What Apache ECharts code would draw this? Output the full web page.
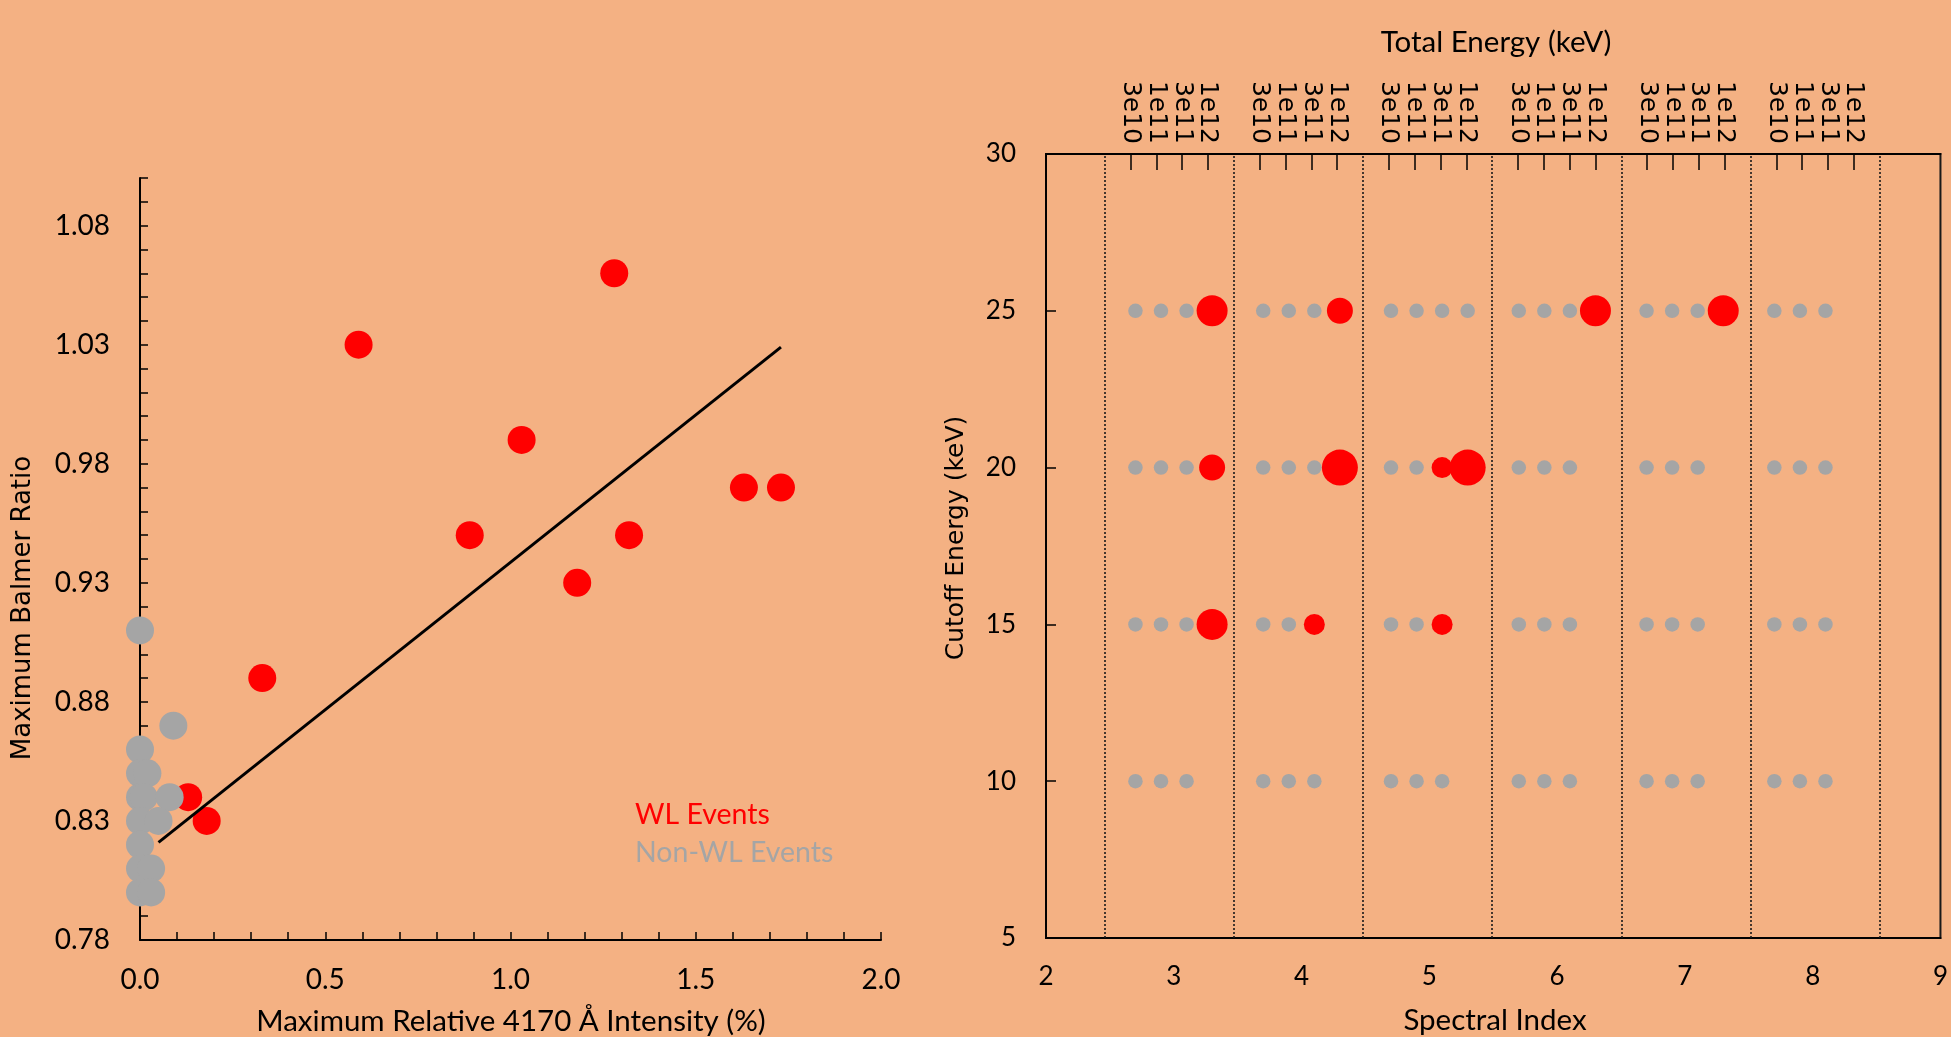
<!DOCTYPE html>
<html>
<head>
<meta charset="utf-8">
<title>Balmer ratio and spectral model runs</title>
<script src="https://cdn.jsdelivr.net/npm/echarts@6/dist/echarts.min.js"></script>
<style>
  html, body { margin: 0; padding: 0; background: #F4B183; }
  #chart { width: 1951px; height: 1037px; }
</style>
</head>
<body>
<div id="chart"></div>
<script>
// ---- Left panel: flare events ----
const wlIntensity = [0.59, 1.28, 1.03, 1.63, 1.73, 0.89, 1.32, 1.18, 0.33, 0.13, 0.18];
const wlBalmer    = [1.03, 1.06, 0.99, 0.97, 0.97, 0.95, 0.95, 0.93, 0.89, 0.84, 0.83];

const nonWlIntensity = [0.00, 0.09, 0.00, 0.00, 0.02, 0.00, 0.01, 0.08, 0.00, 0.05, 0.00, 0.00, 0.03, 0.00, 0.03];
const nonWlBalmer    = [0.91, 0.87, 0.86, 0.85, 0.85, 0.84, 0.84, 0.84, 0.83, 0.83, 0.82, 0.81, 0.81, 0.80, 0.80];

// linear fit through all events, drawn between its end points
const fitIntensity = [0.05, 1.73];
const fitBalmer    = [0.821, 1.029];

const intensityTickLabels = [0.0, 0.5, 1.0, 1.5, 2.0];
const balmerTickLabels    = [0.78, 0.83, 0.88, 0.93, 0.98, 1.03, 1.08];

// ---- Right panel: model grid ----
const spectralIndices   = [3, 4, 5, 6, 7, 8];
const cutoffTickLabels  = [5, 10, 15, 20, 25, 30];
const totalEnergyLabels = ['3e10', '1e11', '3e11', '1e12'];
// horizontal slot of each total energy inside a spectral-index column
const energySlots = [-0.3, -0.1, 0.1, 0.3];

// computed runs: [spectral index, energy index, cutoff keV]
const modelRuns = [
  [3,0,25],[3,1,25],[3,2,25], [4,0,25],[4,1,25],[4,2,25], [5,0,25],[5,1,25],[5,2,25],[5,3,25],
  [6,0,25],[6,1,25],[6,2,25], [7,0,25],[7,1,25],[7,2,25], [8,0,25],[8,1,25],[8,2,25],
  [3,0,20],[3,1,20],[3,2,20], [4,0,20],[4,1,20],[4,2,20], [5,0,20],[5,1,20],
  [6,0,20],[6,1,20],[6,2,20], [7,0,20],[7,1,20],[7,2,20], [8,0,20],[8,1,20],[8,2,20],
  [3,0,15],[3,1,15],[3,2,15], [4,0,15],[4,1,15], [5,0,15],[5,1,15],
  [6,0,15],[6,1,15],[6,2,15], [7,0,15],[7,1,15],[7,2,15], [8,0,15],[8,1,15],[8,2,15],
  [3,0,10],[3,1,10],[3,2,10], [4,0,10],[4,1,10],[4,2,10], [5,0,10],[5,1,10],[5,2,10],
  [6,0,10],[6,1,10],[6,2,10], [7,0,10],[7,1,10],[7,2,10], [8,0,10],[8,1,10],[8,2,10]
];

// runs reproducing the white-light events: [spectral index, energy index, cutoff keV, match level]
const wlRuns = [
  [3,3,25,3], [4,3,25,2], [6,3,25,3], [7,3,25,3],
  [3,3,20,2], [4,3,20,4], [5,2,20,1], [5,3,20,4],
  [3,3,15,3], [4,2,15,1], [5,2,15,1]
];

// the total-energy scale sits on its own axis, slightly offset from the spectral-index axis
const ENERGY_AXIS_RANGE = [2.046, 8.97];

const RED = '#FF0000';
const GREY = '#A5A5A5';
const INK = '#000000';
const SANS = 'Lato';
const WIDE = 'DejaVu Sans';

const zip = (a, b) => a.map((v, i) => [v, b[i]]);
const near = (a, b) => Math.abs(a - b) < 1e-6;

const runPoint = r => [r[0] + energySlots[r[1]], r[2]];
const levelSize = lvl => 16 + 5 * lvl;

const energyTicks = [];
const energyTickText = [];
spectralIndices.forEach(s => {
  energySlots.forEach((d, i) => {
    energyTicks.push(+(s + d).toFixed(2));
    energyTickText.push(totalEnergyLabels[i]);
  });
});
const columnBounds = [2].concat(spectralIndices).map(s => s + 0.5);

const option = {
  backgroundColor: '#F4B183',
  animation: false,
  textStyle: { fontFamily: SANS },
  grid: [
    { left: 140, top: 178, width: 741, height: 762 },
    { left: 1046, top: 154, width: 900, height: 784, show: true,
      borderColor: '#1a1a1a', borderWidth: 2, backgroundColor: 'transparent' }
  ],
  legend: {
    left: 625, top: 795, orient: 'vertical',
    itemWidth: 0, itemHeight: 0, itemGap: 9, icon: 'none',
    selectedMode: false,
    textStyle: { fontFamily: SANS, fontSize: 28.5 },
    data: [
      { name: 'WL Events', textStyle: { color: RED } },
      { name: 'Non-WL Events', textStyle: { color: GREY } }
    ]
  },
  xAxis: [
    {
      gridIndex: 0, type: 'value', min: 0, max: 2, interval: 0.1,
      axisLine: { onZero: false, lineStyle: { color: INK, width: 2 } },
      axisTick: { inside: true, length: 8, lineStyle: { color: INK, width: 1.5 } },
      axisLabel: {
        margin: 26, fontSize: 28, color: INK, fontFamily: SANS,
        formatter: v => intensityTickLabels.some(t => near(t, v)) ? v.toFixed(1) : ''
      },
      splitLine: { show: false }
    },
    {
      gridIndex: 1, type: 'value', min: 2, max: 9, interval: 1,
      axisLine: { onZero: false, lineStyle: { color: INK, width: 2 } },
      axisTick: { show: false },
      axisLabel: { margin: 26, fontSize: 26, color: INK, fontFamily: SANS },
      splitLine: { show: false }
    },
    {
      gridIndex: 1, type: 'value', position: 'top',
      min: ENERGY_AXIS_RANGE[0], max: ENERGY_AXIS_RANGE[1],
      axisLine: { onZero: false, lineStyle: { color: INK, width: 2 } },
      axisTick: { inside: true, length: 16, customValues: energyTicks,
        lineStyle: { color: INK, width: 1.5 } },
      axisLabel: {
        customValues: energyTicks, rotate: 90, margin: 10,
        fontFamily: WIDE, fontSize: 25, color: INK,
        formatter: v => {
          const i = energyTicks.findIndex(t => near(t, v));
          return i >= 0 ? energyTickText[i] : '';
        }
      },
      splitLine: { show: false }
    }
  ],
  yAxis: [
    {
      gridIndex: 0, type: 'value', min: 0.78, max: 1.10, interval: 0.01,
      axisLine: { onZero: false, lineStyle: { color: INK, width: 2 } },
      axisTick: { inside: true, length: 8, lineStyle: { color: INK, width: 1.5 } },
      axisLabel: {
        margin: 30, fontSize: 28, color: INK, fontFamily: SANS,
        formatter: v => balmerTickLabels.some(t => near(t, v)) ? v.toFixed(2) : ''
      },
      splitLine: { show: false }
    },
    {
      gridIndex: 1, type: 'value', min: 5, max: 30, interval: 5,
      axisLine: { onZero: false, lineStyle: { color: INK, width: 2 } },
      axisTick: { inside: true, length: 10, lineStyle: { color: INK, width: 1.5 } },
      axisLabel: {
        margin: 30, fontSize: 26, color: INK, fontFamily: SANS,
        formatter: v => cutoffTickLabels.includes(v) ? String(v) : ''
      },
      splitLine: { show: false }
    }
  ],
  series: [
    {
      name: 'WL Events', type: 'scatter', xAxisIndex: 0, yAxisIndex: 0,
      symbolSize: 28, itemStyle: { color: RED, opacity: 1 }, silent: true,
      data: zip(wlIntensity, wlBalmer)
    },
    {
      name: 'Non-WL Events', type: 'scatter', xAxisIndex: 0, yAxisIndex: 0,
      symbolSize: 28, itemStyle: { color: GREY, opacity: 1 }, silent: true,
      data: zip(nonWlIntensity, nonWlBalmer)
    },
    {
      name: 'Linear fit', type: 'line', xAxisIndex: 0, yAxisIndex: 0,
      symbol: 'none', silent: true,
      lineStyle: { color: INK, width: 3 },
      data: zip(fitIntensity, fitBalmer)
    },
    {
      name: 'Column bounds', type: 'scatter', xAxisIndex: 2, yAxisIndex: 1,
      symbolSize: 0, silent: true,
      data: columnBounds.map(x => [x, 5]),
      markLine: {
        silent: true, symbol: ['none', 'none'], label: { show: false },
        lineStyle: { color: '#1a1a1a', width: 1.6, type: [2, 2] },
        data: columnBounds.map(x => ({ xAxis: x }))
      }
    },
    {
      name: 'Model runs', type: 'scatter', xAxisIndex: 1, yAxisIndex: 1,
      symbolSize: 14.5, itemStyle: { color: GREY, opacity: 1 }, silent: true,
      data: modelRuns.map(runPoint)
    },
    {
      name: 'WL matches', type: 'scatter', xAxisIndex: 1, yAxisIndex: 1,
      itemStyle: { color: RED, opacity: 1 }, silent: true,
      symbolSize: (val, p) => levelSize(wlRuns[p.dataIndex][3]),
      data: wlRuns.map(runPoint)
    }
  ],
  graphic: [
    { type: 'text', x: 23, y: 608, rotation: Math.PI / 2,
      style: { text: 'Maximum Balmer Ratio', font: '26px "DejaVu Sans"', fill: INK,
        align: 'center', verticalAlign: 'middle' } },
    { type: 'text', x: 511, y: 1021,
      style: { text: 'Maximum Relative 4170 Å Intensity (%)', font: '29.5px Lato', fill: INK,
        align: 'center', verticalAlign: 'middle' } },
    { type: 'text', x: 956, y: 538, rotation: Math.PI / 2,
      style: { text: 'Cutoff Energy (keV)', font: '25px "DejaVu Sans"', fill: INK,
        align: 'center', verticalAlign: 'middle' } },
    { type: 'text', x: 1495, y: 1020,
      style: { text: 'Spectral Index', font: '29.5px Lato', fill: INK,
        align: 'center', verticalAlign: 'middle' } },
    { type: 'text', x: 1496, y: 42,
      style: { text: 'Total Energy (keV)', font: '29.5px Lato', fill: INK,
        align: 'center', verticalAlign: 'middle' } }
  ]
};

const chart = echarts.init(document.getElementById('chart'), null, { renderer: 'canvas' });
chart.setOption(option);
</script>
</body>
</html>
